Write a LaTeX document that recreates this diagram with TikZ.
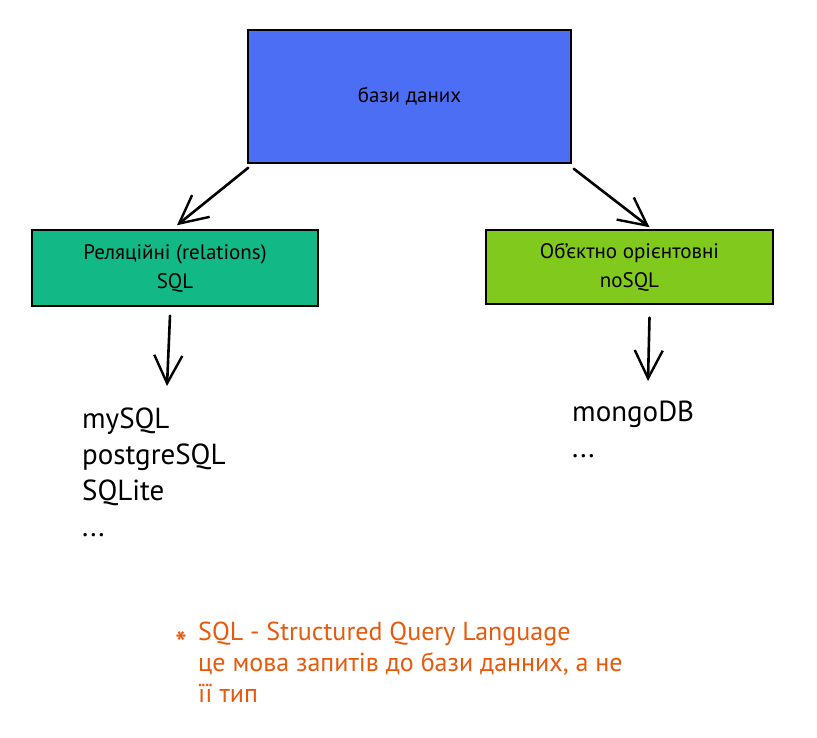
\documentclass[tikz,border=0pt]{standalone}
\usepackage{fontspec}
\setmainfont{PT Sans}
\usetikzlibrary{arrows.meta}
\definecolor{dbblue}{HTML}{4C6EF5}
\definecolor{relgreen}{HTML}{12B886}
\definecolor{nolime}{HTML}{82C91E}
\definecolor{noteorange}{HTML}{E8590C}
\begin{document}
\begin{tikzpicture}[x=1pt,y=-1pt,
  box/.style={draw=black, line width=1.5pt, inner sep=0pt, align=center},
  arr/.style={line width=2.6pt, line cap=round, -{Straight Barb[length=28pt,width=28pt,line width=2.4pt]}},
  listtext/.style={anchor=north west, align=left, inner sep=0pt, font=\fontsize{29}{36}\selectfont},
  notetext/.style={anchor=north west, align=left, inner sep=0pt, text=noteorange, font=\fontsize{26}{31}\selectfont}]
\useasboundingbox (0,0) rectangle (817,737);
\node[box, fill=dbblue, minimum width=323pt, minimum height=133pt, font=\fontsize{21}{25}\selectfont] (db) at (409.5,96.5) {бази даних};
\node[box, fill=relgreen, minimum width=286pt, minimum height=76pt, font=\fontsize{21}{29}\selectfont] (rel) at (175,268) {Реляційні (relations)\\SQL};
\node[box, fill=nolime, minimum width=287pt, minimum height=74pt, font=\fontsize{21}{29}\selectfont] (nosql) at (629.5,267) {Об'єктно орієнтовні\\noSQL};
\node[listtext] (sqllist) at (82,408) {mySQL\\postgreSQL\\SQLite\\...};
\node[listtext] (nolist) at (572,401) {mongoDB\\...};
\coordinate (sqlend) at (167,386);
\coordinate (noend) at (648,381);
\draw[arr] ([xshift=1pt,yshift=-4pt]db.south west) -- ([xshift=2pt,yshift=4pt]rel.north);
\draw[arr] ([xshift=2pt,yshift=-5pt]db.south east) -- ([xshift=20pt,yshift=2pt]nosql.north);
\draw[arr] ([xshift=-5pt,yshift=-9pt]rel.south) -- (sqlend);
\draw[arr] ([xshift=20pt,yshift=-13pt]nosql.south) -- (noend);
\node[text=noteorange, font=\bfseries\fontsize{30}{30}\selectfont, inner sep=0pt] (star) at (181,643) {*};
\node[notetext] (note) at (198,622) {SQL - Structured Query Language\\це мова запитів до бази данних, а не\\її тип};
\end{tikzpicture}
\end{document}
